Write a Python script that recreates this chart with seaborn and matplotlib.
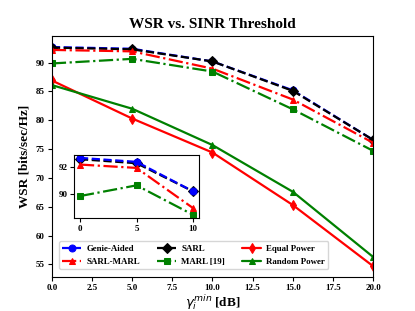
import matplotlib
matplotlib.use("Agg")
import matplotlib.pyplot as plt
import seaborn as sns
import pandas as pd

# SINR threshold (dB)
gamma = [0, 5, 10, 15, 20]

genie_aided = [92.7, 92.4, 90.2, 85.2, 76.6]
sarl = [92.6, 92.3, 90.2, 85.1, 76.6]
sarl_marl = [92.2, 91.95, 88.95, 83.6, 76.1]
marl = [89.85, 90.65, 88.45, 81.9, 74.7]
equal_power = [86.9, 80.3, 74.4, 65.3, 54.7]
random_power = [86.1, 82.0, 75.7, 67.6, 56.3]

series = [
    ("Genie-Aided", genie_aided, "blue", "o", "--"),
    ("SARL", sarl, "black", "D", "--"),
    ("SARL-MARL", sarl_marl, "red", "^", "-."),
    ("MARL [19]", marl, "green", "s", "-."),
    ("Equal Power", equal_power, "red", "d", "-"),
    ("Random Power", random_power, "green", "^", "-"),
]

sns.set_style("ticks")
plt.rcParams["font.family"] = ["Liberation Serif", "DejaVu Serif"]
plt.rcParams["mathtext.fontset"] = "custom"
plt.rcParams["mathtext.it"] = "DejaVu Sans:italic"
plt.rcParams["mathtext.rm"] = "DejaVu Sans"
plt.rcParams["mathtext.bf"] = "Liberation Serif:bold"
for k in ["text.color", "axes.labelcolor", "xtick.color", "ytick.color", "axes.edgecolor"]:
    plt.rcParams[k] = "black"

fig = plt.figure(figsize=(4.15, 3.11), dpi=100)
ax = fig.add_axes([0.125, 0.109, 0.774, 0.775])

for name, vals, col, mk, ls in series:
    df = pd.DataFrame({"x": gamma, "y": vals})
    sns.lineplot(data=df, x="x", y="y", ax=ax, color=col, marker=mk, linestyle=ls,
                 linewidth=1.6, markersize=5, markeredgecolor=col, label=name)

ax.set_xlim(0, 20)
ax.set_xticks([0, 2.5, 5, 7.5, 10, 12.5, 15, 17.5, 20])
ax.set_xticklabels(["0.0", "2.5", "5.0", "7.5", "10.0", "12.5", "15.0", "17.5", "20.0"])
ax.set_yticks([55, 60, 65, 70, 75, 80, 85, 90])
ax.tick_params(labelsize=6.5, length=3, width=0.8, pad=2)
for lab in ax.get_xticklabels() + ax.get_yticklabels():
    lab.set_fontweight("bold")
ax.set_title("WSR vs. SINR Threshold", fontsize=11, fontweight="bold")
ax.set_xlabel(r"$\gamma_i^{min}$ $\mathbf{[dB]}$", fontsize=9.5, labelpad=0)
ax.set_ylabel("WSR [bits/sec/Hz]", fontsize=9.5, fontweight="bold")

handles, labels = ax.get_legend_handles_labels()
order = [0, 2, 1, 3, 4, 5]
ax.legend([handles[i] for i in order], [labels[i] for i in order],
          loc="lower left", ncol=3, prop={"weight": "bold", "size": 6.4},
          bbox_to_anchor=(0.008, 0.015), columnspacing=1.9, handlelength=2.15,
          handletextpad=0.6, borderpad=0.35, labelspacing=0.55)

# inset zoom on first three thresholds
ins = fig.add_axes([0.179, 0.300, 0.300, 0.2016])
for name, vals, col, mk, ls in [series[1], series[0], series[2], series[3]]:
    df = pd.DataFrame({"x": gamma[:3], "y": vals[:3]})
    sns.lineplot(data=df, x="x", y="y", ax=ins, color=col, marker=mk, linestyle=ls,
                 linewidth=1.6, markersize=5, markeredgecolor=col, legend=False)
ins.set_xticks([0, 5, 10])
ins.set_yticks([90, 92])
ins.set_xlabel("")
ins.set_ylabel("")
ins.tick_params(labelsize=6.5, length=3, width=0.8, pad=2)
for lab in ins.get_xticklabels() + ins.get_yticklabels():
    lab.set_fontweight("bold")

fig.savefig("out.png", dpi=100)
